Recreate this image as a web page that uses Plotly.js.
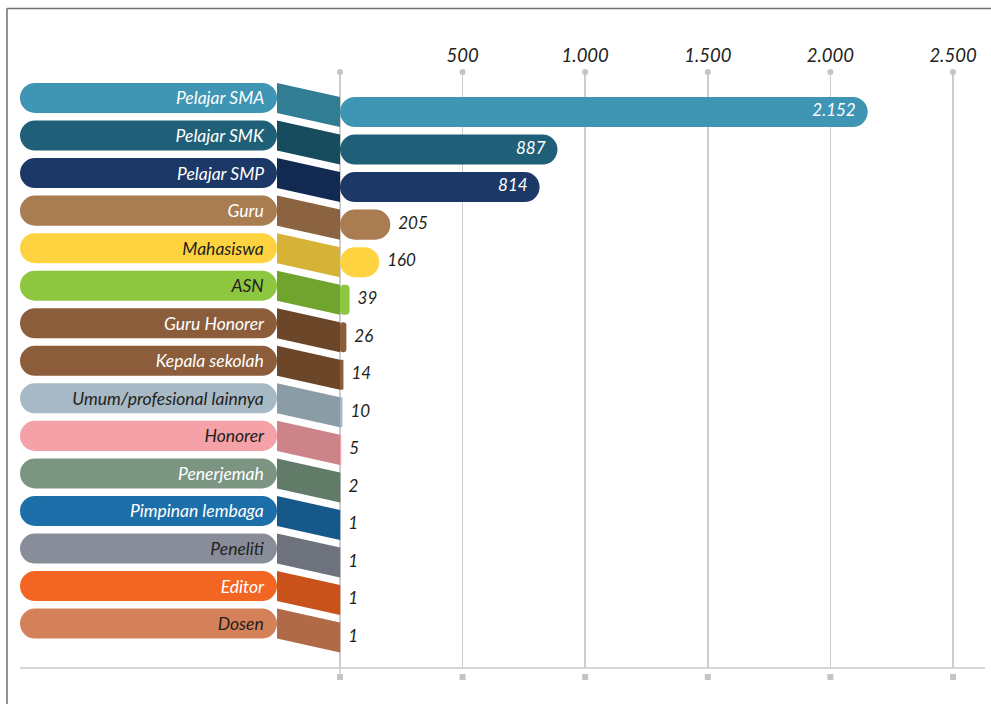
<!DOCTYPE html>
<html>
<head>
<meta charset="utf-8">
<script src="https://cdn.plot.ly/plotly-3.0.1.min.js"></script>
<style>
html,body{margin:0;padding:0;background:#fff;}
#chart{width:991px;height:704px;}
</style>
</head>
<body>
<div id="chart"></div>
<script>
// ---- data ----
const categories = ["Pelajar SMA","Pelajar SMK","Pelajar SMP","Guru","Mahasiswa","ASN","Guru Honorer","Kepala sekolah","Umum/profesional lainnya","Honorer","Penerjemah","Pimpinan lembaga","Peneliti","Editor","Dosen"];
const values = [2152, 887, 814, 205, 160, 39, 26, 14, 10, 5, 2, 1, 1, 1, 1];
const tickValues = [500, 1000, 1500, 2000, 2500];
const tickLabels = ["500", "1.000", "1.500", "2.000", "2.500"];

// ---- styles ----
const barColors = ["#3e95b4","#1f5f77","#1c3867","#a97c52","#fed33f","#8dc63f","#8b5d3b","#8b5d3b","#a7b9c4","#f4a1a7","#7b9582","#1d6fa9","#898d99","#f26522","#d48059"];
const connColors = ["#307d94","#174b5e","#122a52","#8c6341","#d6b236","#70a42f","#6c4629","#6c4629","#8a9ca6","#cd838a","#627b68","#15598b","#6d727d","#c9521b","#b06a47"];
const labelColors = ["#ffffff","#ffffff","#ffffff","#ffffff","#231f20","#231f20","#ffffff","#ffffff","#231f20","#231f20","#ffffff","#ffffff","#231f20","#ffffff","#231f20"];

const FONT = "Lato, 'Open Sans', sans-serif";
const DARK = "#231f20";
const GRID = "#cdcdcd";

const xMin = -1305.1, xMax = 2630.5;
const tabBase = -256.9;             // right edge of the label tabs
const tabOffset = 0.373;            // label tab sits higher than its bar
const barW = 0.8;
const yTop = -1.0655, yBottom = 14.81;

function fmt(v){ return String(v).replace(/\B(?=(\d{3})+(?!\d))/g, "."); }

const idx = categories.map((c,i)=>i);

const tabs = {
  type: "bar", orientation: "h",
  y: idx.map(i=>i - tabOffset),
  x: idx.map(()=> xMin - tabBase),
  base: tabBase,
  width: barW,
  marker: {color: barColors, cornerradius: 15, line: {width: 0}},
  text: categories.map(c=>c + "\u00a0"),
  textposition: "inside",
  insidetextanchor: "start",
  constraintext: "none",
  textfont: {family: FONT, size: 17.5, style: "italic", color: labelColors},
  hoverinfo: "skip"
};

const bars = {
  type: "bar", orientation: "h",
  y: idx, x: values, base: 0,
  width: barW,
  marker: {color: barColors, cornerradius: 15, line: {width: 0}},
  hoverinfo: "skip"
};

const inside = values.map(v => v > 500);
const valueLabels = {
  type: "scatter", mode: "text",
  x: values, y: idx,
  text: values.map((v,i)=> inside[i] ? fmt(v) + "\u00a0\u00a0\u00a0" : "\u00a0\u00a0" + fmt(v)),
  textposition: values.map((v,i)=> inside[i] ? "middle left" : "middle right"),
  textfont: {family: FONT, size: 17, style: "italic", color: values.map((v,i)=> inside[i] ? "#ffffff" : DARK)},
  cliponaxis: false, hoverinfo: "skip"
};

const gridX = [0].concat(tickValues);
const topDots = {
  type: "scatter", mode: "markers",
  x: gridX, y: gridX.map(()=>yTop),
  marker: {symbol: "circle", size: 6, color: "#c4c4c4"},
  cliponaxis: false, hoverinfo: "skip"
};

const shapes = idx.map(i => ({
  type: "path", xref: "x", yref: "y", layer: "above",
  path: `M ${tabBase},${i - tabOffset - barW/2} L 0,${i - barW/2} L 0,${i + barW/2} L ${tabBase},${i - tabOffset + barW/2} Z`,
  fillcolor: connColors[i], line: {width: 0}
}));
// bottom squares under each gridline
gridX.forEach(g => shapes.push({
  type: "rect", xref: "x", xsizemode: "pixel", xanchor: g, x0: -3, x1: 3,
  yref: "paper", ysizemode: "pixel", yanchor: 0, y0: -12, y1: -6,
  fillcolor: "#c4c4c4", line: {width: 0}
}));
// zero line extends down to its square
shapes.push({type: "line", xref: "x", x0: 0, x1: 0, yref: "paper", ysizemode: "pixel", yanchor: 0, y0: 0, y1: -8, line: {color: GRID, width: 1.5}});
// bottom axis line
shapes.push({type:"line", xref:"paper", yref:"paper", x0:0, x1:1, y0:0, y1:0, line:{color:"#c8c8c8", width:1.5}});
// frame (top and left)
shapes.push({type:"line", xref:"paper", yref:"paper", x0:-0.0135, x1:1.01, y0:1.1065, y1:1.1065, line:{color:"#6d6e71", width:1.5}});
shapes.push({type:"line", xref:"paper", yref:"paper", x0:-0.0135, x1:-0.0135, y0:1.1065, y1:-0.07, line:{color:"#6d6e71", width:1.5}});

const layout = {
  width: 991, height: 704,
  margin: {l: 20, r: 6, t: 72, b: 36},
  paper_bgcolor: "#ffffff", plot_bgcolor: "#ffffff",
  showlegend: false,
  separators: ",.",
  barmode: "overlay",
  xaxis: {
    range: [xMin, xMax], side: "top",
    tickvals: tickValues, ticktext: tickLabels,
    tickfont: {family: FONT, size: 18.5, style: "italic", color: DARK},
    ticks: "", ticklabelstandoff: 5,
    showgrid: true, gridcolor: GRID, gridwidth: 1.5,
    zeroline: true, zerolinecolor: GRID, zerolinewidth: 1.5,
    showline: false, fixedrange: true
  },
  yaxis: {
    range: [yBottom, yTop],
    showticklabels: false, showgrid: false, zeroline: false, showline: false, ticks: "", fixedrange: true
  },
  shapes: shapes
};

Plotly.newPlot("chart", [tabs, bars, topDots, valueLabels], layout, {staticPlot: true, displayModeBar: false});
</script>
</body>
</html>
